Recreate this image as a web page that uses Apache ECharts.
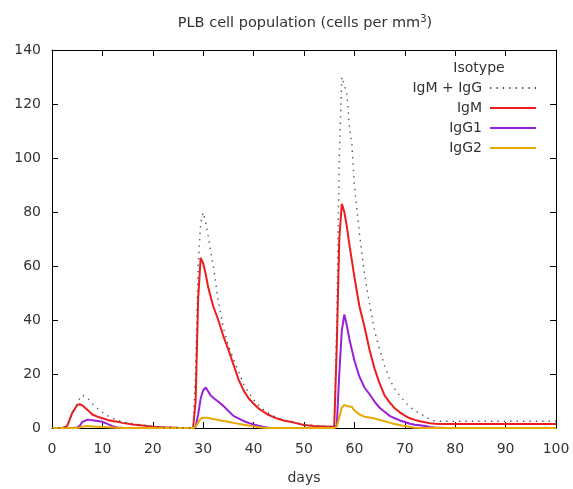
<!DOCTYPE html>
<html>
<head>
<meta charset="utf-8">
<script src="https://cdn.jsdelivr.net/npm/echarts@6/dist/echarts.min.js"></script>
<style>
html,body{margin:0;padding:0;background:#fff;}
#chart{width:573px;height:489px;}
</style>
</head>
<body>
<div id="chart"></div>
<script>
var days = [0, 2, 3, 4, 5, 5.5, 6, 7, 8, 9, 10, 11, 12, 13, 14, 16, 18, 20, 22, 25,
  28, 28.5, 29, 29.5, 30, 30.5, 31, 31.5, 32, 33, 34, 35, 36, 37, 38, 39, 40, 41, 42, 43,
  44, 45, 46, 48, 50, 52, 54, 56, 56.5, 57, 57.5, 58, 58.5, 59, 59.5, 60, 61, 62, 63, 64,
  65, 66, 67, 68, 69, 70, 71, 72, 73, 74, 75, 76, 77, 78, 80, 85, 90, 95, 100];

var igmIgg = [0, 0, 0.5, 5.5, 9, 11, 12.2, 11.2, 9, 7.3, 5.8, 4.6, 3.6, 2.9, 2.2, 1.6, 1.1, 0.6, 0.3, 0.1,
  0, 22, 60, 76, 79.8, 76, 71, 65, 60, 47, 37, 30.5, 25.5, 21, 16.3, 13.2, 10.5, 8.4, 6.8, 5.4,
  4.4, 3.6, 3, 2.1, 1.3, 0.9, 0.7, 0.5, 40, 100, 130, 127, 124, 112, 105, 90, 72, 57, 46, 36,
  29, 23, 18, 14.5, 12, 9.7, 7.8, 6.4, 5.4, 4.2, 3.2, 2.6, 2.5, 2.5, 2.5, 2.5, 2.5, 2.5, 2.5];

var igm = [0, 0, 0.7, 5.5, 8.5, 8.8, 8.4, 6.8, 5.0, 4.2, 3.6, 3.0, 2.6, 2.3, 1.9, 1.3, 0.9, 0.5, 0.3, 0.1,
  0, 10, 48, 63, 61, 57, 52, 48.5, 45, 40, 34, 29, 23.5, 18, 14, 11, 9, 7.2, 6, 4.8,
  4, 3.3, 2.8, 2.0, 1.1, 0.7, 0.6, 0.5, 30, 70, 83, 80, 74.6, 68, 62, 56, 45, 37.5, 29, 22,
  16.5, 12, 9.5, 7.3, 5.8, 4.6, 3.6, 3, 2.5, 2.1, 1.8, 1.6, 1.5, 1.5, 1.5, 1.5, 1.5, 1.5, 1.5];

var igg1 = [0, 0, 0, 0, 0.2, 0.8, 2.2, 3.1, 2.9, 2.6, 2.3, 1.5, 0.7, 0.2, 0.1, 0, 0, 0, 0, 0,
  0, 0.5, 5, 11, 14, 15, 13.5, 12, 11.2, 9.7, 8.2, 6.3, 4.5, 3.6, 2.6, 1.9, 1.3, 0.8, 0.4, 0.1,
  0, 0, 0, 0, 0, 0, 0, 0, 1, 20, 36, 42, 38, 33, 29, 25, 19, 15, 12.5, 9.8,
  7.5, 6, 4.5, 3.6, 2.8, 2.2, 1.6, 1.2, 1, 0.7, 0.4, 0.2, 0.1, 0, 0, 0, 0, 0, 0];

var igg2 = [0, 0, 0, 0, 0, 0.2, 0.5, 0.7, 0.6, 0.5, 0.4, 0.3, 0.2, 0.1, 0, 0, 0, 0, 0, 0,
  0, 0.5, 2, 3.5, 3.8, 3.8, 3.7, 3.5, 3.3, 3.0, 2.6, 2.3, 1.9, 1.6, 1.2, 0.9, 0.6, 0.3, 0.1, 0,
  0, 0, 0, 0, 0, 0, 0, 0, 0.5, 4, 7.5, 8.5, 8.2, 8, 7.8, 6.5, 5, 4.2, 3.9, 3.5,
  3, 2.5, 2, 1.5, 1.1, 0.7, 0.4, 0.1, 0, 0, 0, 0, 0, 0, 0, 0, 0, 0, 0];

var xTicks = [0, 10, 20, 30, 40, 50, 60, 70, 80, 90, 100];
var yTicks = [0, 20, 40, 60, 80, 100, 120, 140];

function pairs(ys) { return days.map(function (d, i) { return [d, ys[i]]; }); }

var FONT = 'DejaVu Sans';
var chart = echarts.init(document.getElementById('chart'), null, {renderer: 'canvas'});

function mkX(pos, showLabel) {
  return {
    type: 'value', position: pos, min: xTicks[0], max: xTicks[xTicks.length - 1], interval: 10,
    splitLine: {show: false},
    axisLine: {show: true, onZero: false, lineStyle: {color: '#000', width: 1}},
    axisTick: {show: true, inside: true, length: 6, lineStyle: {color: '#000'}},
    axisLabel: {show: showLabel, color: '#333', fontFamily: FONT, fontSize: 14, margin: 14},
    name: showLabel ? 'days' : '', nameLocation: 'middle', nameGap: 43,
    nameTextStyle: {color: '#333', fontFamily: FONT, fontSize: 14}
  };
}
function mkY(pos, showLabel) {
  return {
    type: 'value', position: pos, min: yTicks[0], max: yTicks[yTicks.length - 1], interval: 20,
    splitLine: {show: false},
    axisLine: {show: true, onZero: false, lineStyle: {color: '#000', width: 1}},
    axisTick: {show: true, inside: true, length: 6, lineStyle: {color: '#000'}},
    axisLabel: {show: showLabel, color: '#333', fontFamily: FONT, fontSize: 14, margin: 11}
  };
}

var names = ['IgM + IgG', 'IgM', 'IgG1', 'IgG2'];
var colors = ['#555555', '#ee1c1c', '#9a1fd8', '#e8a800'];
var values = [igmIgg, igm, igg1, igg2];

var series = values.map(function (v, i) {
  return {
    name: names[i], type: 'line', data: pairs(v), xAxisIndex: 0, yAxisIndex: 0,
    showSymbol: false, symbol: 'none', smooth: false, clip: false,
    z: i === 0 ? 5 : 3,
    lineStyle: i === 0 ? {color: colors[i], width: 1.4, type: [1.4, 5]} : {color: colors[i], width: 2},
    itemStyle: {color: colors[i]}
  };
});

chart.setOption({
  animation: false,
  backgroundColor: '#fff',
  title: [{
    text: 'PLB cell population (cells per mm{sup|3})',
    left: 300, top: 9, textAlign: 'center',
    textStyle: {color: '#333', fontFamily: FONT, fontSize: 14.5, fontWeight: 'normal',
      rich: {sup: {fontSize: 10, verticalAlign: 'top', padding: [0, 0, 8, 0], color: '#333', fontFamily: FONT}}}
  }, {
    text: 'Isotype', left: 474, top: 56, textAlign: 'center',
    textStyle: {color: '#333', fontFamily: FONT, fontSize: 14, fontWeight: 'normal'}
  }],
  legend: {
    data: names, orient: 'vertical', right: 31, top: 76, align: 'right',
    itemWidth: 46, itemHeight: 14, itemGap: 6,
    itemStyle: {opacity: 0},
    textStyle: {color: '#333', fontFamily: FONT, fontSize: 14, width: 88, align: 'right', padding: [0, 3, 0, 0]}
  },
  grid: {left: 52, right: 17, top: 50, bottom: 61, containLabel: false, outerBoundsMode: 'none'},
  xAxis: [mkX('bottom', true), mkX('top', false)],
  yAxis: [mkY('left', true), mkY('right', false)],
  series: series
});
</script>
</body>
</html>
